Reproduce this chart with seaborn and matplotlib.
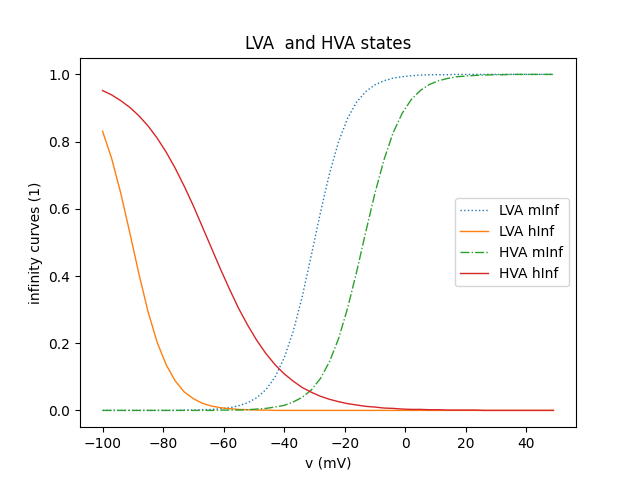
import numpy as np
import pandas as pd
import matplotlib
matplotlib.use("Agg")
import matplotlib.pyplot as plt
import seaborn as sns

# membrane potential grid (mV)
v = [-100, -97, -94, -91, -88, -85, -82, -79, -76, -73, -70, -67, -64, -61,
     -58, -55, -52, -49, -46, -43, -40, -37, -34, -31, -28, -25, -22, -19,
     -16, -13, -10, -7, -4, -1, 2, 5, 8, 11, 14, 17, 20, 23, 26, 29, 32, 35,
     38, 41, 44, 47, 49]

lva_minf = [0.000, 0.000, 0.000, 0.000, 0.000, 0.000, 0.000, 0.000, 0.000, 0.001,
            0.001, 0.002, 0.003, 0.005, 0.008, 0.014, 0.023, 0.038, 0.062, 0.099,
            0.156, 0.235, 0.339, 0.462, 0.589, 0.705, 0.800, 0.870, 0.918, 0.949,
            0.969, 0.981, 0.989, 0.993, 0.996, 0.998, 0.999, 0.999, 0.999, 1.000,
            1.000, 1.000, 1.000, 1.000, 1.000, 1.000, 1.000, 1.000, 1.000, 1.000,
            1.000]

lva_hinf = [0.831, 0.750, 0.647, 0.529, 0.407, 0.295, 0.204, 0.136, 0.088, 0.055,
            0.035, 0.021, 0.013, 0.008, 0.005, 0.003, 0.002, 0.001, 0.001, 0.000,
            0.000, 0.000, 0.000, 0.000, 0.000, 0.000, 0.000, 0.000, 0.000, 0.000,
            0.000, 0.000, 0.000, 0.000, 0.000, 0.000, 0.000, 0.000, 0.000, 0.000,
            0.000, 0.000, 0.000, 0.000, 0.000, 0.000, 0.000, 0.000, 0.000, 0.000,
            0.000]

hva_minf = [0.000, 0.000, 0.000, 0.000, 0.000, 0.000, 0.000, 0.000, 0.000, 0.000,
            0.000, 0.000, 0.000, 0.001, 0.001, 0.001, 0.002, 0.004, 0.006, 0.010,
            0.015, 0.025, 0.039, 0.061, 0.095, 0.145, 0.214, 0.305, 0.414, 0.532,
            0.646, 0.746, 0.826, 0.884, 0.925, 0.952, 0.970, 0.981, 0.988, 0.993,
            0.995, 0.997, 0.998, 0.999, 0.999, 1.000, 1.000, 1.000, 1.000, 1.000,
            1.000]

hva_hinf = [0.952, 0.939, 0.922, 0.902, 0.877, 0.847, 0.811, 0.769, 0.721, 0.667,
            0.609, 0.546, 0.483, 0.420, 0.360, 0.303, 0.253, 0.208, 0.169, 0.136,
            0.109, 0.087, 0.068, 0.054, 0.042, 0.033, 0.026, 0.020, 0.016, 0.012,
            0.010, 0.007, 0.006, 0.004, 0.003, 0.003, 0.002, 0.002, 0.001, 0.001,
            0.001, 0.001, 0.000, 0.000, 0.000, 0.000, 0.000, 0.000, 0.000, 0.000,
            0.000]

series = [
    ("LVA mInf", lva_minf, ":", "C0"),
    ("LVA hInf", lva_hinf, "-", "C1"),
    ("HVA mInf", hva_minf, "-.", "C2"),
    ("HVA hInf", hva_hinf, "-", "C3"),
]

fig, ax = plt.subplots(figsize=(6.4, 4.8), dpi=100)

for name, vals, ls, col in series:
    sns.lineplot(x=v, y=vals, label=name, linestyle=ls, color=col,
                 linewidth=1.0, ax=ax)

ax.set_title("LVA  and HVA states")
ax.set_xlabel("v (mV)")
ax.set_ylabel("infinity curves (1)")
ax.legend(loc="center right")

fig.savefig("out.png", dpi=100)
